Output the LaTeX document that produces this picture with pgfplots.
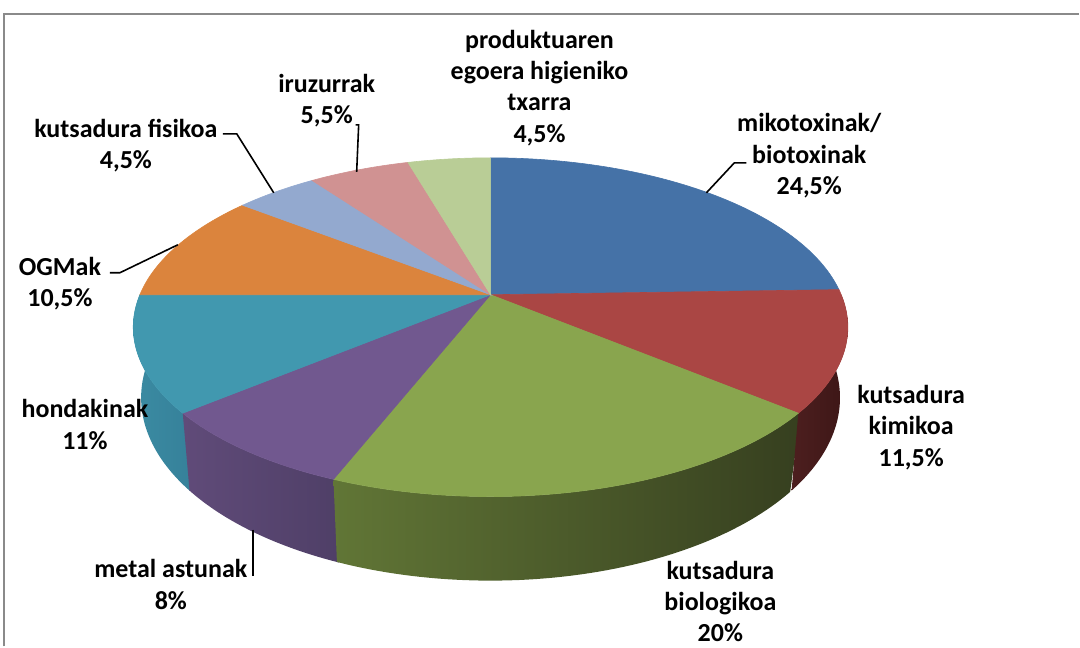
\documentclass[border=0pt]{standalone}
\usepackage{fontspec}
\setmainfont{Carlito}
\usepackage{pgfplots}
\pgfplotsset{compat=1.18}
\definecolor{cBlue}{HTML}{4572A7}
\definecolor{cRed}{HTML}{AA4644}
\definecolor{cGreen}{HTML}{89A54E}
\definecolor{cPurple}{HTML}{71588F}
\definecolor{cTeal}{HTML}{4198AF}
\definecolor{cOrange}{HTML}{DB843D}
\definecolor{cLBlue}{HTML}{93A9CF}
\definecolor{cPink}{HTML}{D09292}
\definecolor{cLGreen}{HTML}{B9CD96}
\definecolor{sRedL}{HTML}{4D1F1F}
\definecolor{sRedR}{HTML}{3C1616}
\definecolor{sGreenL}{HTML}{617636}
\definecolor{sGreenR}{HTML}{363F1F}
\definecolor{sPurpleL}{HTML}{604B79}
\definecolor{sPurpleR}{HTML}{4F3F67}
\definecolor{sTealL}{HTML}{3B8BA2}
\definecolor{sTealR}{HTML}{36819A}
\definecolor{frame}{HTML}{8A8A8A}
% shares (percent), clockwise from 12 o'clock
\def\pA{24.5}\def\pB{11.5}\def\pC{20}\def\pD{8}\def\pE{11}
\def\pF{10.5}\def\pG{4.5}\def\pH{5.5}\def\pI{4.5}
\pgfmathsetmacro\aA{90}
\pgfmathsetmacro\aB{\aA-3.6*\pA}
\pgfmathsetmacro\aC{\aB-3.6*\pB}
\pgfmathsetmacro\aD{\aC-3.6*\pC}
\pgfmathsetmacro\aE{\aD-3.6*\pD}
\pgfmathsetmacro\aF{\aE-3.6*\pE}
\pgfmathsetmacro\aG{\aF-3.6*\pF}
\pgfmathsetmacro\aH{\aG-3.6*\pG}
\pgfmathsetmacro\aI{\aH-3.6*\pH}
\pgfmathsetmacro\aJ{\aI-3.6*\pI}
% slight overlaps of side strips to hide seams
\pgfmathsetmacro\aEx{\aE+0.8}
\pgfmathsetmacro\aDx{\aD+0.8}
\pgfmathsetmacro\aCx{\aC+0.8}
% top face of a slice: colour, low angle, high angle
\newcommand\topslice[3]{%
  \addplot[fill=#1, draw=#1, line width=0.3pt, domain=#2:#3, samples=60, variable=\t]
    ({PX(\t)},{PY(\t)}) -- (axis cs:491,295) -- cycle;}
% side of a slice: left colour, right colour, low angle, high angle
\newcommand\sideslice[4]{%
  \addplot[draw=none, left color=#1, right color=#2, domain=0:2, samples=121, variable=\s]
    ({\s<=1 ? PX(#3+(#4-(#3))*\s) : BX(#4-(#4-(#3))*(\s-1))},
     {\s<=1 ? PY(#3+(#4-(#3))*\s) : BY(#4-(#4-(#3))*(\s-1))}) -- cycle;}
\begin{document}
\begin{tikzpicture}[declare function={
    W(\t)=1+0.1917*sin(\t);
    PX(\t)=491+351*cos(\t)/W(\t);
    PY(\t)=295-163.3*sin(\t)/W(\t);
    BX(\t)=491+0.978*351*cos(\t)/W(\t);
    BY(\t)=PY(\t)+68/W(\t);
  },
  lbl/.style={align=center, inner sep=0pt, font=\fontsize{13}{15.7}\selectfont\bfseries}]
\begin{axis}[x=0.5pt, y=0.5pt, xmin=0, xmax=1080, ymin=0, ymax=647,
  y dir=reverse, hide axis, clip=false, scale only axis]
\path (axis cs:0,0) rectangle (axis cs:1080,647);
\draw[frame, line width=1pt] (axis cs:4,647) -- (axis cs:4,14) -- (axis cs:1080,14);
% sides
\sideslice{sTealL}{sTealR}{\aF}{\aEx}
\sideslice{sPurpleL}{sPurpleR}{\aE}{\aDx}
\sideslice{sGreenL}{sGreenR}{\aD}{\aCx}
\sideslice{sRedL}{sRedR}{\aC}{0}
% tops
\topslice{cBlue}{\aB}{\aA}
\topslice{cRed}{\aC}{\aB}
\topslice{cGreen}{\aD}{\aC}
\topslice{cPurple}{\aE}{\aD}
\topslice{cTeal}{\aF}{\aE}
\topslice{cOrange}{\aG}{\aF}
\topslice{cLBlue}{\aH}{\aG}
\topslice{cPink}{\aI}{\aH}
\topslice{cLGreen}{\aJ}{\aI}
% leader lines
\draw[black, line width=0.8pt] (axis cs:223,134) -- (axis cs:237,134) -- (axis cs:274,193);
\draw[black, line width=0.8pt] (axis cs:356,125) -- (axis cs:359,125) -- (axis cs:357,172);
\draw[black, line width=0.8pt] (axis cs:707,193) -- (axis cs:735,163) -- (axis cs:747,163);
\draw[black, line width=0.8pt] (axis cs:110,273) -- (axis cs:120,273) -- (axis cs:178,245);
\draw[black, line width=0.8pt] (axis cs:253,530) -- (axis cs:253,577);
% labels
\node[lbl] at (axis cs:540,88) {produktuaren\\egoera higieniko\\txarra\\4,5\%};
\node[lbl] at (axis cs:810,156) {mikotoxinak/\\biotoxinak\\24,5\%};
\node[lbl] at (axis cs:126,146) {kutsadura fisikoa\\4,5\%};
\node[lbl] at (axis cs:327,101) {iruzurrak\\5,5\%};
\node[lbl] at (axis cs:60,284) {OGMak\\10,5\%};
\node[lbl] at (axis cs:85,425) {hondakinak\\11\%};
\node[lbl] at (axis cs:912,428) {kutsadura\\kimikoa\\11,5\%};
\node[lbl] at (axis cs:171,585) {metal astunak\\8\%};
\node[lbl] at (axis cs:721,602) {kutsadura\\biologikoa\\20\%};
\end{axis}
\end{tikzpicture}
\end{document}
